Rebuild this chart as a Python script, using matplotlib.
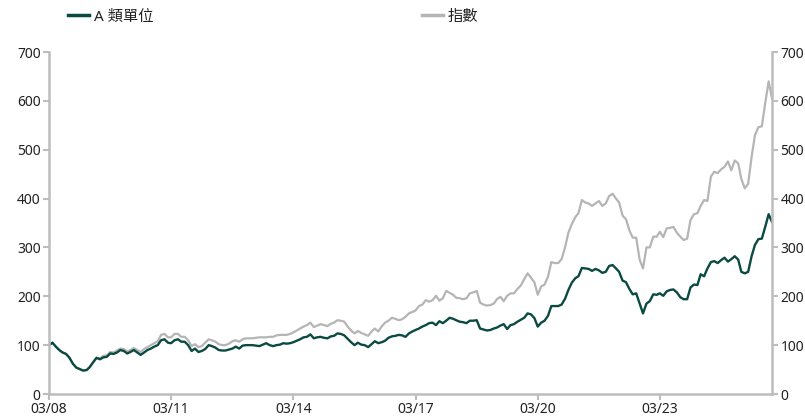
import numpy as np
import pandas as pd
import matplotlib
matplotlib.use("Agg")
import matplotlib.pyplot as plt
import matplotlib.dates as mdates
from matplotlib.lines import Line2D

plt.rcParams['font.family'] = ['Noto Sans', 'Noto Sans CJK TC', 'DejaVu Sans']

# monthly values, starting 2008-03
start = "2008-03-01"

unit_a = [
    100, 105, 97, 90, 85, 82, 74, 62, 54, 51, 48, 49, 55, 65, 74, 71, 75, 76, 83, 82,
    85, 90, 88, 83, 86, 90, 85, 80, 85, 90, 93, 97, 100, 110, 112, 105, 104, 110, 112, 107,
    107, 100, 88, 93, 86, 88, 92, 100, 98, 95, 90, 89, 89, 91, 93, 97, 93, 99, 100, 100,
    100, 99, 98, 101, 104, 100, 98, 100, 101, 104, 103, 104, 106, 109, 112, 116, 117, 122, 114, 116,
    117, 115, 114, 118, 119, 124, 123, 120, 113, 106, 100, 105, 101, 100, 96, 102, 108, 104, 106, 109,
    115, 118, 119, 121, 120, 117, 124, 128, 131, 134, 138, 141, 145, 146, 141, 149, 145, 150, 156, 154,
    151, 148, 147, 145, 150, 150, 151, 134, 132, 130, 131, 134, 136, 140, 143, 133, 141, 143, 148, 152,
    156, 165, 163, 155, 138, 146, 150, 160, 180, 180, 180, 183, 195, 213, 228, 237, 241, 258, 257, 256,
    252, 256, 253, 248, 250, 262, 264, 257, 250, 232, 229, 215, 204, 206, 185, 165, 185, 190, 204, 203,
    206, 201, 210, 213, 214, 208, 198, 194, 194, 218, 224, 223, 245, 241, 257, 270, 272, 268, 274, 279,
    271, 276, 282, 275, 250, 247, 250, 282, 305, 317, 318, 342, 368, 352,
]

index_vals = [
    100, 105, 97, 90, 85, 82, 74, 62, 54, 51, 48, 49, 55, 65, 74, 73, 78, 79, 86, 85,
    89, 93, 92, 87, 90, 94, 90, 86, 92, 96, 100, 104, 108, 121, 123, 116, 116, 123, 123, 117,
    117, 110, 98, 102, 96, 98, 105, 112, 110, 107, 102, 100, 100, 103, 108, 110, 107, 112, 114, 114,
    114, 115, 116, 116, 116, 117, 117, 120, 121, 121, 121, 123, 126, 130, 134, 138, 141, 146, 137, 140,
    143, 141, 139, 144, 146, 151, 150, 148, 138, 130, 124, 129, 125, 122, 119, 128, 134, 128, 138, 146,
    150, 156, 154, 151, 153, 158, 165, 168, 171, 180, 183, 192, 189, 192, 201, 191, 196, 211, 207, 203,
    197, 196, 194, 196, 206, 208, 211, 187, 183, 181, 182, 185, 194, 199, 190, 201, 206, 206, 215, 222,
    235, 247, 238, 228, 203, 220, 224, 240, 270, 268, 268, 276, 300, 330, 348, 362, 370, 397, 392, 390,
    385, 390, 395, 385, 390, 405, 410, 400, 392, 365, 358, 335, 320, 320, 275, 257, 300, 300, 322, 322,
    332, 321, 339, 340, 342, 330, 322, 315, 318, 356, 368, 370, 385, 397, 395, 445, 455, 452, 460, 465,
    476, 458, 478, 472, 440, 421, 430, 485, 530, 546, 548, 595, 640, 605,
]

dates = pd.date_range(start, periods=len(unit_a), freq="MS")
tick_dates = pd.date_range("2008-03-01", "2023-03-01", freq="36MS")

dark = "#0b4a43"
grey = "#b5b5b5"
spine_c = "#bdbdbd"

fig = plt.figure(figsize=(8.05, 4.16), dpi=100)
ax = fig.add_axes([49 / 805, 22 / 416, (772 - 49) / 805, (394 - 52) / 416])

ax.plot(dates, index_vals, color=grey, lw=1.6)
ax.plot(dates, unit_a, color=dark, lw=1.7)

ax.set_xlim(dates[0], dates[-1])
ax.set_ylim(0, 700)
ax.set_yticks(np.arange(0, 701, 100))
ax.set_xticks(tick_dates)
ax.xaxis.set_major_formatter(mdates.DateFormatter("%m/%y"))

ax.spines['top'].set_visible(False)
for s in ['left', 'right', 'bottom']:
    ax.spines[s].set_color(spine_c)
    ax.spines[s].set_linewidth(1.8)

ax.tick_params(axis='both', colors=spine_c, labelcolor="#222222", labelsize=10,
               length=4, width=1.5, pad=2)
ax.tick_params(axis='y', left=True, right=True, labelleft=True, labelright=True)

h1 = Line2D([], [], color=dark, lw=2.5)
h2 = Line2D([], [], color=grey, lw=2.5)
kw = dict(loc='center left', frameon=False, borderpad=0, borderaxespad=0,
          handlelength=1.35, handletextpad=0.35, fontsize=11)
leg1 = fig.legend([h1], ["A 類單位"], bbox_to_anchor=(68 / 805, 1 - 17 / 416), **kw)
leg2 = fig.legend([h2], ["指數"], bbox_to_anchor=(422 / 805, 1 - 17 / 416), **kw)
for leg in (leg1, leg2):
    for t in leg.get_texts():
        t.set_color("#222222")

fig.savefig("out.png", dpi=100)
